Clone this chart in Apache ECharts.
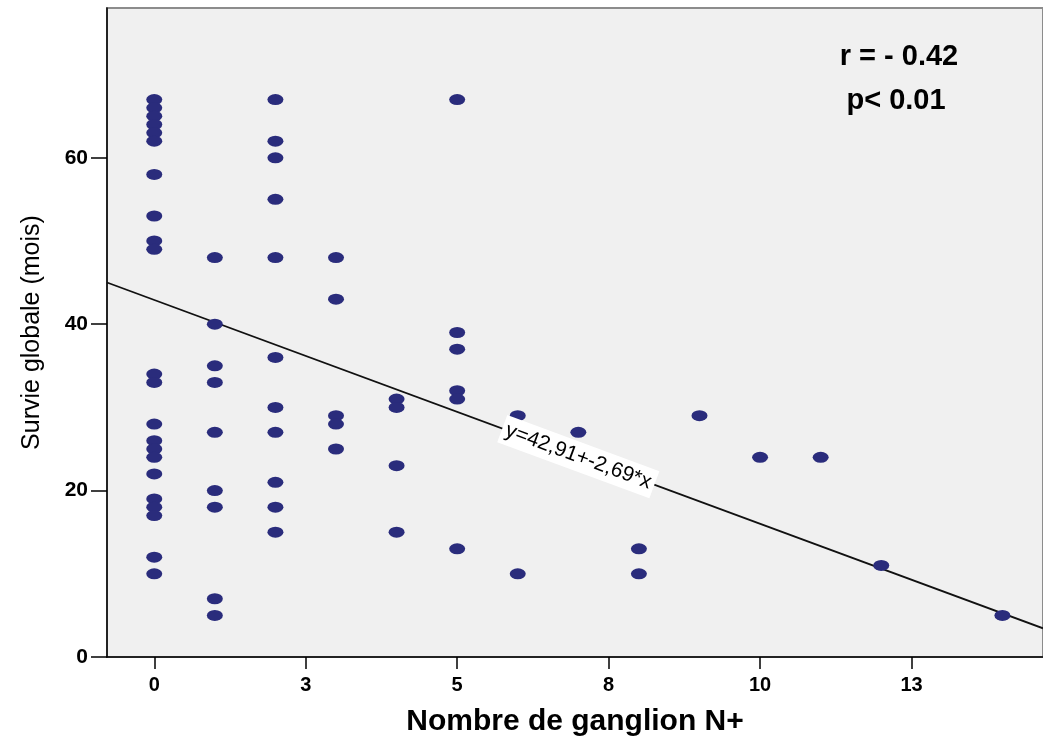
<!DOCTYPE html>
<html>
<head>
<meta charset="utf-8">
<script src="https://cdn.jsdelivr.net/npm/echarts@6/dist/echarts.min.js"></script>
<style>
  html, body { margin: 0; padding: 0; background: #ffffff; }
  #chart { width: 1043px; height: 742px; }
</style>
</head>
<body>
<div id="chart"></div>
<script>
// Nombre de ganglions envahis (N+) et survie globale (mois), un patient par position
const ganglions = [
  0, 0, 0, 0, 0, 0, 0, 0, 0, 0, 0, 0, 0, 0, 0, 0, 0, 0, 0, 0, 0, 0,
  1, 1, 1, 1, 1, 1, 1, 1, 1,
  2, 2, 2, 2, 2, 2, 2, 2, 2, 2, 2,
  3, 3, 3, 3, 3,
  4, 4, 4, 4,
  5, 5, 5, 5, 5, 5,
  6, 6,
  7,
  8, 8,
  9,
  10,
  11,
  12,
  14
];
const survieMois = [
  67, 66, 65, 64, 63, 62, 58, 53, 50, 49, 34, 33, 28, 26, 25, 24, 22, 19, 18, 17, 12, 10,
  48, 40, 35, 33, 27, 20, 18, 7, 5,
  67, 62, 60, 55, 48, 36, 30, 27, 21, 18, 15,
  48, 43, 29, 28, 25,
  31, 30, 23, 15,
  67, 39, 37, 32, 31, 13,
  29, 10,
  27,
  13, 10,
  29,
  24,
  24,
  11,
  5
];

// Droite de régression : y = intercept + pente * x
const intercept = 42.91;
const pente = -2.69;
const equationTexte = 'y=42,91+-2,69*x';
const equationX = 7;

// Graduations
const xTickValues = [0, 2.5, 5, 7.5, 10, 12.5];
const xTickLabels = ['0', '3', '5', '8', '10', '13'];
const yTickValues = [0, 20, 40, 60];

// Étendue des axes
const xMin = -0.78, xMax = 14.67;
const yMin = 0, yMax = 78;

const statTexts = ['r = - 0.42', 'p< 0.01'];

const FONT = '"Liberation Sans", Arial, sans-serif';
const points = ganglions.map((g, i) => [g, survieMois[i]]);
const droite = [xMin, xMax].map(x => [x, intercept + pente * x]);

const chart = echarts.init(document.getElementById('chart'), null, { renderer: 'canvas' });

chart.setOption({
  animation: false,
  backgroundColor: '#ffffff',
  grid: {
    left: 107, top: 8, right: -2, bottom: 84,
    show: true,
    backgroundColor: '#f0f0f0',
    borderColor: '#8c8c8c',
    borderWidth: 2
  },
  xAxis: {
    type: 'value',
    min: xMin, max: xMax,
    name: 'Nombre de ganglion N+',
    nameLocation: 'middle',
    nameGap: 50,
    nameTextStyle: { fontFamily: FONT, fontSize: 30, fontWeight: 'bold', color: '#000' },
    axisLine: { show: true, onZero: false, lineStyle: { color: '#000', width: 1.5 } },
    axisTick: { show: true, customValues: xTickValues, length: 12, lineStyle: { color: '#000', width: 1.5 } },
    axisLabel: {
      customValues: xTickValues,
      margin: 18,
      fontFamily: FONT, fontSize: 20, fontWeight: 'bold', color: '#000',
      formatter: v => {
        const i = xTickValues.indexOf(v);
        return i >= 0 ? xTickLabels[i] : '';
      }
    },
    splitLine: { show: false }
  },
  yAxis: {
    type: 'value',
    min: yMin, max: yMax,
    name: 'Survie globale (mois)',
    nameLocation: 'middle',
    nameGap: 62,
    nameTextStyle: { fontFamily: FONT, fontSize: 25, color: '#000' },
    axisLine: { show: true, onZero: false, lineStyle: { color: '#000', width: 1.5 } },
    axisTick: { show: true, customValues: yTickValues, length: 16, lineStyle: { color: '#000', width: 1.5 } },
    axisLabel: {
      customValues: yTickValues,
      margin: 19,
      fontFamily: FONT, fontSize: 21, fontWeight: 'bold', color: '#000'
    },
    splitLine: { show: false }
  },
  series: [
    {
      type: 'line',
      data: droite,
      symbol: 'none',
      silent: true,
      lineStyle: { color: '#111', width: 1.8 },
      z: 2
    },
    {
      type: 'scatter',
      data: points,
      symbol: 'circle',
      symbolSize: [16, 11],
      itemStyle: { color: '#2a2c7c', opacity: 1 },
      z: 3
    }
  ]
});

// Étiquette de l'équation posée sur la droite, orientée comme elle
const p0 = chart.convertToPixel({ gridIndex: 0 }, droite[0]);
const p1 = chart.convertToPixel({ gridIndex: 0 }, droite[1]);
const pc = chart.convertToPixel({ gridIndex: 0 }, [equationX, intercept + pente * equationX]);
const angle = Math.atan2(p1[1] - p0[1], p1[0] - p0[0]);

chart.setOption({
  graphic: [
    {
      type: 'text',
      x: pc[0], y: pc[1],
      rotation: -angle,
      z: 10,
      style: {
        text: equationTexte,
        fontFamily: FONT, fontSize: 21,
        fill: '#000',
        align: 'center', verticalAlign: 'middle',
        backgroundColor: '#ffffff',
        padding: [4, 4, 4, 4]
      }
    },
    {
      type: 'text',
      x: 899, y: 57,
      z: 10,
      style: {
        text: statTexts[0],
        fontFamily: FONT, fontSize: 29, fontWeight: 'bold',
        fill: '#000', align: 'center', verticalAlign: 'middle'
      }
    },
    {
      type: 'text',
      x: 896, y: 101,
      z: 10,
      style: {
        text: statTexts[1],
        fontFamily: FONT, fontSize: 29, fontWeight: 'bold',
        fill: '#000', align: 'center', verticalAlign: 'middle'
      }
    }
  ]
});
</script>
</body>
</html>
